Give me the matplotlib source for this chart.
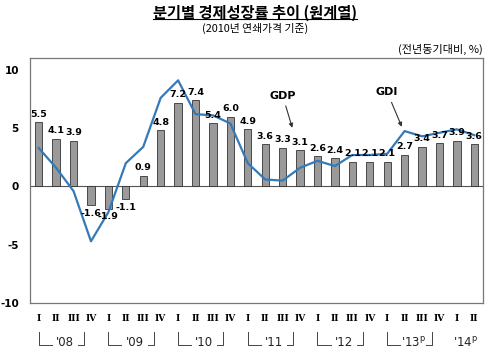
import numpy as np
import matplotlib
matplotlib.use("Agg")
import matplotlib.pyplot as plt
import matplotlib.transforms as mtrans
from matplotlib.lines import Line2D

plt.rcParams['font.family'] = ['Noto Sans CJK KR', 'DejaVu Sans']

quarterLabels = ["I", "II", "III", "IV"] * 6 + ["I", "II"]
yearLabels = ["'08", "'09", "'10", "'11", "'12", "'13", "'14"]
yearSuffix = ["", "", "", "", "", "P", "P"]
gdpValues = [5.5, 4.1, 3.9, -1.6, -1.9, -1.1, 0.9, 4.8, 7.2, 7.4, 5.4, 6.0, 4.9,
             3.6, 3.3, 3.1, 2.6, 2.4, 2.1, 2.1, 2.1, 2.7, 3.4, 3.7, 3.9, 3.6]
gdiValues = [3.3, 1.6, -0.4, -4.7, -2.2, 2.0, 3.4, 7.6, 9.1, 6.2, 6.1, 5.4, 2.0,
             0.6, 0.5, 1.6, 2.2, 1.75, 2.7, 2.7, 2.8, 4.75, 4.3, 4.6, 4.9, 4.4]

fig = plt.figure(figsize=(5.0, 3.57), dpi=100)
ax = fig.add_axes([0.06, 0.151, 0.906, 0.686])

x = np.arange(len(gdpValues))
ax.bar(x, gdpValues, width=0.42, color="#9a9a9a", edgecolor="#333333", linewidth=0.6, zorder=2)
ax.plot(x, gdiValues, color="#3479ba", linewidth=1.6, zorder=3)
ax.axhline(0, color="#555555", linewidth=0.8, zorder=1)

for xi, v in zip(x, gdpValues):
    if(v >= 0):
        ax.text(xi, v + 0.3, f"{v:.1f}", ha="center", va="bottom", fontsize=6.8,
                fontweight="bold", family="DejaVu Sans", zorder=4)
    else:
        ax.text(xi, v - 0.3, f"{v:.1f}", ha="center", va="top", fontsize=6.8,
                fontweight="bold", family="DejaVu Sans", zorder=4)

ax.set_xlim(-0.5, len(x) - 0.5)
ax.set_ylim(-10, 11)
ax.set_yticks([-10, -5, 0, 5, 10])
ax.set_yticklabels(["-10", "-5", "0", "5", "10"], fontweight="bold", fontsize=7.5, family="DejaVu Sans")
ax.tick_params(axis="y", length=0, pad=8)
ax.set_xticks(x)
ax.set_xticklabels(quarterLabels, family="DejaVu Serif", fontsize=6.5, fontweight="bold")
ax.tick_params(axis="x", length=0, pad=8)
for s in ax.spines.values():
    s.set_color("#777777")
    s.set_linewidth(0.9)

# GDP / GDI callouts
ax.annotate("GDP", xy=(14.6, 4.8), xytext=(14.0, 7.8), fontsize=8, fontweight="bold",
            family="DejaVu Sans", ha="center", va="center",
            arrowprops=dict(arrowstyle="-|>", color="#333333", lw=0.8, mutation_scale=6))
ax.annotate("GDI", xy=(20.9, 4.9), xytext=(20.0, 8.1), fontsize=8, fontweight="bold",
            family="DejaVu Sans", ha="center", va="center",
            arrowprops=dict(arrowstyle="-|>", color="#333333", lw=0.8, mutation_scale=6))

# year brackets below the quarter labels
trans = mtrans.blended_transform_factory(ax.transData, fig.transFigure)
yb = 0.04
for i, yl in enumerate(yearLabels):
    first = i * 4
    last = min(first + 3, len(x) - 1)
    label = yl + ("$^{\\mathrm{" + yearSuffix[i].lower() + "}}$" if yearSuffix[i] else "")
    mid = (first + last) / 2.0
    ax.text(mid, yb, label, transform=trans, ha="center", va="center", fontsize=8.5,
            family="DejaVu Sans", color="#222222")
    if(last - first == 3):
        lx0 = first
        lx1 = last - 0.4
        fig.add_artist(Line2D([lx0, lx0, mid - 0.75], [yb + 0.03, yb - 0.005, yb - 0.005],
                              transform=trans, color="#444444", linewidth=0.7))
        fig.add_artist(Line2D([mid + 0.75, lx1, lx1], [yb - 0.005, yb - 0.005, yb + 0.03],
                              transform=trans, color="#444444", linewidth=0.7))

title = fig.text(0.51, 0.965, "분기별 경제성장률 추이 (원계열)", ha="center", va="center",
                 fontsize=11, fontweight="bold")
fig.text(0.51, 0.92, "(2010년 연쇄가격 기준)", ha="center", va="center", fontsize=7.8)
fig.text(0.966, 0.862, "(전년동기대비, %)", ha="right", va="center", fontsize=8)

fig.canvas.draw()
bb = title.get_window_extent().transformed(fig.transFigure.inverted())
fig.add_artist(Line2D([bb.x0, bb.x1], [bb.y0 + 0.004, bb.y0 + 0.004], transform=fig.transFigure,
                      color="black", linewidth=0.8))

fig.savefig("out.png", dpi=100)
